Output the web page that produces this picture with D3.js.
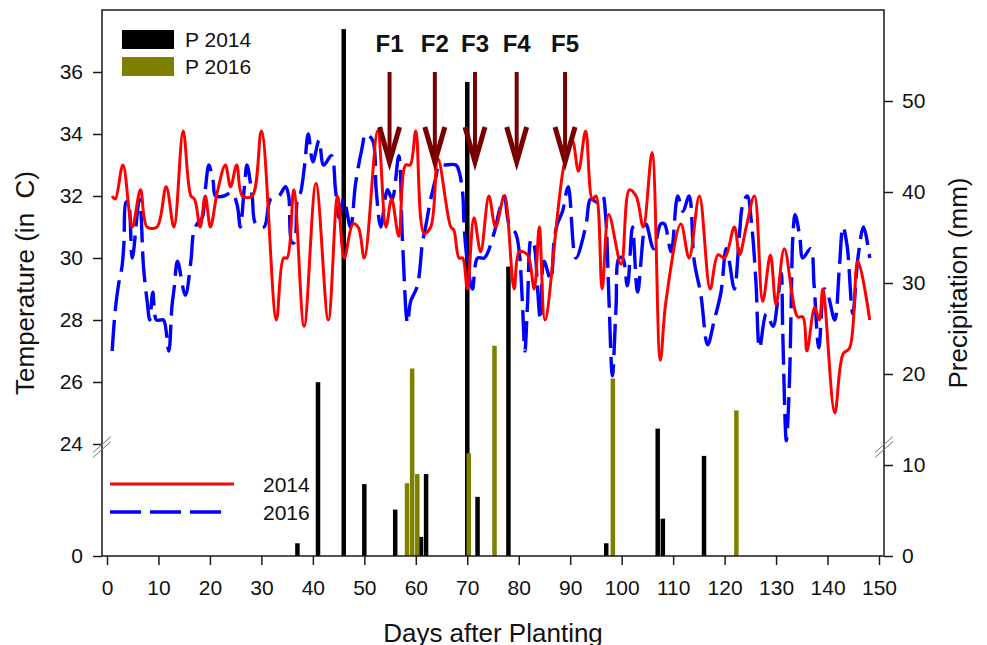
<!DOCTYPE html>
<html>
<head>
<meta charset="utf-8">
<script src="https://cdn.jsdelivr.net/npm/d3@7"></script>
<style>
  body { margin: 0; background: #fff; }
  svg text { font-family: Arial, "Liberation Sans", sans-serif; fill: #111; }
</style>
</head>
<body>
<div id="chart"></div>
<script>
// daily max temperature (day, degrees C)
var tempDays2014 = [1, 1.6, 3.1, 4.9, 6.5, 7.8, 9.7, 11.5, 13.0, 14.8, 16.3, 17.0, 18.1, 19.1, 20.1, 21.4, 23.0, 24.0, 25.2, 26.3, 28.2, 30.0,
  32.9, 34.3, 35.0, 36.3, 38.3, 40.6, 43.0, 44.8, 46.1, 47.8, 48.8, 50.0, 52.6, 54.2, 55.3, 56.7, 58.0, 58.9, 60.0, 61.6, 62.9, 64.3,
  66.8, 67.4, 68.4, 69.1, 70.0, 71.3, 72.6, 74.2, 75.5, 77.2, 79.1, 80.1, 81.7, 83.0, 84.0, 85.1, 88.8, 90.4, 91.6, 93.0, 94.3, 95.0,
  96.2, 97.5, 99.9, 101.5, 102.8, 104.2, 105.9, 107.5, 108.6, 111.5, 113.1, 115.1, 117.2, 118.7, 120.0, 121.9, 122.9, 124.2, 125.8,
  127.4, 128.9, 130.0, 131.6, 134.2, 135.2, 136.0, 137.5, 138.4, 139.1, 141.4, 143.0, 144.3, 145.9, 148.2];
var temp2014 = [32.0, 31.9, 33.0, 31.0, 32.2, 31.0, 31.0, 32.3, 31.0, 34.1, 32.0, 31.9, 31.0, 32.0, 31.0, 32.1, 33.0, 32.3, 33.0, 32.0, 32.0, 34.1,
  28.0, 30.0, 30.0, 32.2, 27.8, 32.4, 28.0, 32.0, 30.0, 31.1, 31.0, 30.0, 34.1, 31.0, 31.9, 30.7, 33.0, 33.0, 34.1, 30.8, 31.0, 33.2,
  31.0, 30.9, 30.0, 30.0, 29.0, 31.3, 30.2, 32.0, 31.0, 32.0, 29.0, 30.2, 30.1, 29.0, 31.0, 28.0, 33.0, 33.8, 32.8, 34.1, 31.9, 32.0,
  29.0, 31.4, 29.8, 32.2, 32.0, 31.0, 33.4, 26.7, 28.6, 31.1, 30.0, 32.0, 29.0, 30.1, 30.0, 31.0, 30.1, 31.0, 32.0,
  28.6, 30.1, 28.5, 30.3, 28.1, 28.1, 27.0, 28.4, 28.0, 29.0, 25.0, 26.9, 27.1, 29.9, 28.0];

var tempDays2016 = [1, 1.6, 2.3, 2.9, 3.3, 3.7, 4.1, 4.9, 6.3, 7.1, 7.8, 8.3, 8.9, 9.6, 10.4, 11.0, 12.0, 12.6, 13.1, 13.7, 15.2, 16.3, 16.8,
  17.5, 18.5, 19.1, 19.8, 20.6, 21.1, 22.7, 24.3, 25.3, 25.9, 26.7, 27.2, 28.2, 28.9, 30.5, 31.8, 33.4, 34.7, 35.3, 35.9, 36.4, 37.0,
  37.6, 38.4, 39.1, 40.0, 41.2, 42.1, 43.6, 44.4, 45.1, 46.0, 47.3, 48.3, 49.5, 50.3, 51.6, 52.3, 53.2, 54.5, 55.4, 56.7, 57.4, 58.4,
  59.0, 60.3, 61.3, 61.9, 62.9, 63.9, 64.5, 65.5, 67.8, 68.4, 69.1, 69.4, 70.0, 71.0, 72.0, 73.3, 75.2, 76.2, 77.2, 78.1, 79.4, 80.1,
  80.7, 81.2, 81.7, 82.4, 83.0, 83.7, 84.2, 84.9, 86.2, 86.9, 87.5, 88.5, 89.6, 91.1, 93.0, 94.0, 95.2, 96.3, 96.9, 97.5, 98.2, 98.9,
  99.5, 100.2, 101.1, 102.1, 103.1, 104.7, 106.2, 107.6, 108.3, 109.6, 110.9, 111.9, 113.1, 114.1, 115.4, 116.7, 118.0, 119.3, 120.3,
  120.9, 121.9, 122.9, 123.5, 124.4, 125.3, 126.1, 126.8, 128.1, 129.4, 130.3, 131.0, 131.3, 132.0, 132.6, 132.9, 133.3, 133.7, 134.6,
  135.2, 136.7, 137.4, 138.3, 139.4, 140.1, 141.4, 142.3, 143.0, 143.8, 144.9, 145.9, 147.0, 148.2];
var temp2016 = [27.0, 28.3, 29.2, 29.7, 30.5, 31.8, 31.8, 30.0, 31.9, 29.7, 28.6, 28.0, 28.9, 28.0, 28.0, 28.0, 27.0, 28.4, 29.1, 29.9, 28.8, 29.9, 30.8,
  31.1, 31.3, 32.2, 33.0, 32.5, 32.0, 32.0, 32.1, 31.7, 31.0, 32.3, 33.0, 32.0, 31.1, 31.0, 31.9, 32.0, 32.3, 32.0, 30.5, 30.5, 31.9,
  32.1, 33.0, 34.0, 33.1, 33.8, 33.0, 33.3, 32.2, 31.3, 31.9, 31.0, 32.4, 33.5, 34.0, 33.8, 32.2, 31.0, 32.2, 31.9, 33.3, 30.6, 27.9,
  28.6, 29.1, 30.5, 31.0, 31.9, 32.6, 33.0, 33.0, 33.0, 32.8, 32.1, 31.0, 29.9, 29.0, 30.0, 30.0, 30.8, 31.5, 32.0, 31.1, 30.8, 30.2,
  28.6, 27.0, 28.5, 30.6, 30.4, 28.9, 28.0, 29.9, 29.3, 30.6, 31.1, 31.5, 32.3, 30.0, 31.0, 31.9, 31.8, 32.0, 31.3, 28.8, 26.2, 28.4,
  30.0, 30.0, 29.1, 31.0, 28.9, 31.1, 30.3, 31.1, 31.1, 30.2, 32.0, 31.5, 32.0, 29.9, 28.8, 27.2, 28.0, 28.9, 30.3,
  29.9, 29.0, 30.8, 31.7, 32.0, 31.0, 29.2, 27.1, 28.2, 27.8, 28.6, 29.5, 27.6, 24.1, 26.0, 28.2, 30.8, 31.4, 30.7,
  30.0, 30.3, 29.1, 27.1, 29.0, 28.8, 28.0, 29.7, 31.0, 30.4, 28.2, 30.0, 31.0, 30.0];

// precipitation (mm)
var rainDays2014 = [37, 41, 46, 50, 56, 61, 62, 70, 72, 78, 97, 107, 108, 116];
var rain2014 = [1.4, 19.1, 57.9, 7.9, 5.1, 2.1, 9.0, 52.1, 6.5, 31.8, 1.4, 14.0, 4.1, 11.0];
var rainDays2016 = [58, 59, 60, 70, 75, 98, 122];
var rain2016 = [8.0, 20.6, 9.0, 11.3, 23.1, 19.5, 16.0];

// fertiliser applications
var fertDays = [54.9, 63.7, 71.5, 79.6, 89.0];
var fertLabels = ["F1", "F2", "F3", "F4", "F5"];

var dayTicks = d3.range(0, 151, 10);
var tempTicks = [0, 24, 26, 28, 30, 32, 34, 36];
var rainTicks = [0, 10, 20, 30, 40, 50];

function drawChart() {
    var W = 987, H = 645;
    var pL = 102, pR = 884, pT = 10, pB = 556;

    var svg = d3.select("#chart").append("svg")
        .attr("width", W)
        .attr("height", H);

    var x = d3.scaleLinear().domain([0, 150]).range([107, 879]);
    // broken temperature axis: 0 then jump to 24
    var yT = d3.scaleLinear().domain([0, 24, 38]).range([pB, 444, pT]);
    var yP = d3.scaleLinear().domain([0, 60]).range([pB, pT]);

    // bars
    var barW = 4.5;
    svg.append("g").selectAll("rect").data(rainDays2014).enter().append("rect")
        .attr("x", function(d) { return x(d) - barW / 2; })
        .attr("width", barW)
        .attr("y", function(d, i) { return yP(rain2014[i]); })
        .attr("height", function(d, i) { return pB - yP(rain2014[i]); })
        .attr("fill", "#000");
    svg.append("g").selectAll("rect").data(rainDays2016).enter().append("rect")
        .attr("x", function(d) { return x(d) - barW / 2 + 1.5; })
        .attr("width", barW)
        .attr("y", function(d, i) { return yP(rain2016[i]); })
        .attr("height", function(d, i) { return pB - yP(rain2016[i]); })
        .attr("fill", "#7f7f00");

    // temperature lines
    var line = d3.line()
        .x(function(d) { return x(d[0]); })
        .y(function(d) { return yT(d[1]); })
        .curve(d3.curveCatmullRom.alpha(0.5));

    svg.append("path")
        .datum(d3.zip(tempDays2016, temp2016))
        .attr("d", line)
        .attr("fill", "none")
        .attr("stroke", "#0000ff")
        .attr("stroke-width", 3.4)
        .attr("stroke-dasharray", "31,9");

    svg.append("path")
        .datum(d3.zip(tempDays2014, temp2014))
        .attr("d", line)
        .attr("fill", "none")
        .attr("stroke", "#ff0000")
        .attr("stroke-width", 3);

    // frame
    svg.append("path")
        .attr("d", "M" + pL + "," + pB + "V" + pT + "H" + pR + "V" + pB + "Z")
        .attr("fill", "none").attr("stroke", "#1a1a1a").attr("stroke-width", 1.5);

    // axes
    var xAxis = svg.append("g").attr("transform", "translate(0," + pB + ")")
        .call(d3.axisBottom(x).tickValues(dayTicks).tickSize(9).tickPadding(15));
    var yAxisL = svg.append("g").attr("transform", "translate(" + pL + ",0)")
        .call(d3.axisLeft(yT).tickValues(tempTicks).tickSize(9).tickPadding(10));
    var yAxisR = svg.append("g").attr("transform", "translate(" + pR + ",0)")
        .call(d3.axisRight(yP).tickValues(rainTicks).tickSize(9).tickPadding(9));

    [xAxis, yAxisL, yAxisR].forEach(function(g) {
        g.attr("font-family", null).attr("font-size", null);
        g.select(".domain").remove();
        g.selectAll(".tick line").attr("stroke", "#1a1a1a").attr("stroke-width", 1.5);
        g.selectAll(".tick text").attr("font-size", 21).attr("fill", "#111");
    });

    // axis break marks
    function breakMark(cx, cy) {
        [-2.5, 2.5].forEach(function(o) {
            svg.append("line")
                .attr("x1", cx - 9).attr("y1", cy + 8 + o)
                .attr("x2", cx + 9).attr("y2", cy - 8 + o)
                .attr("stroke", "#777").attr("stroke-width", 1);
        });
    }
    breakMark(pL, yT(24) + 3);
    breakMark(pR, yT(24) + 3);

    // fertiliser arrows
    var arrowCol = "#7a0000";
    fertDays.forEach(function(d, i) {
        var ax = x(d), y0 = yT(36), y1 = yT(33);
        svg.append("line")
            .attr("x1", ax).attr("x2", ax).attr("y1", y0).attr("y2", y1 - 4)
            .attr("stroke", arrowCol).attr("stroke-width", 4);
        svg.append("path")
            .attr("d", "M" + (ax - 10) + "," + (y1 - 38) + "L" + ax + "," + (y1 - 3) + "L" + (ax + 10) + "," + (y1 - 38))
            .attr("fill", "none").attr("stroke", arrowCol).attr("stroke-width", 5)
            .attr("stroke-linejoin", "miter");
        svg.append("text").text(fertLabels[i])
            .attr("x", ax).attr("y", y0 - 20)
            .attr("text-anchor", "middle")
            .attr("font-size", 24).attr("font-weight", "bold");
    });

    // axis titles
    svg.append("text").text("Temperature (in  C)")
        .attr("transform", "translate(34," + (pT + pB) / 2 + ") rotate(-90)")
        .attr("text-anchor", "middle").attr("font-size", 26)
        .style("white-space", "pre");
    svg.append("text").text("Precipitation (mm)")
        .attr("transform", "translate(967," + (pT + pB) / 2 + ") rotate(-90)")
        .attr("text-anchor", "middle").attr("font-size", 26);
    svg.append("text").text("Days after Planting")
        .attr("x", (pL + pR) / 2).attr("y", 642)
        .attr("text-anchor", "middle").attr("font-size", 26);

    // precipitation legend
    svg.append("rect").attr("x", 122).attr("y", 30).attr("width", 52).attr("height", 19).attr("fill", "#000");
    svg.append("text").text("P 2014").attr("x", 185).attr("y", 47).attr("font-size", 21);
    svg.append("rect").attr("x", 122).attr("y", 57).attr("width", 52).attr("height", 19).attr("fill", "#7f7f00");
    svg.append("text").text("P 2016").attr("x", 185).attr("y", 74).attr("font-size", 21);

    // temperature legend
    svg.append("line").attr("x1", 110).attr("x2", 234).attr("y1", 484).attr("y2", 484)
        .attr("stroke", "#ff0000").attr("stroke-width", 3);
    svg.append("text").text("2014").attr("x", 263).attr("y", 492).attr("font-size", 21);
    svg.append("line").attr("x1", 110).attr("x2", 222).attr("y1", 512).attr("y2", 512)
        .attr("stroke", "#0000ff").attr("stroke-width", 3.4).attr("stroke-dasharray", "31,9");
    svg.append("text").text("2016").attr("x", 263).attr("y", 520).attr("font-size", 21);
}

drawChart();
</script>
</body>
</html>
